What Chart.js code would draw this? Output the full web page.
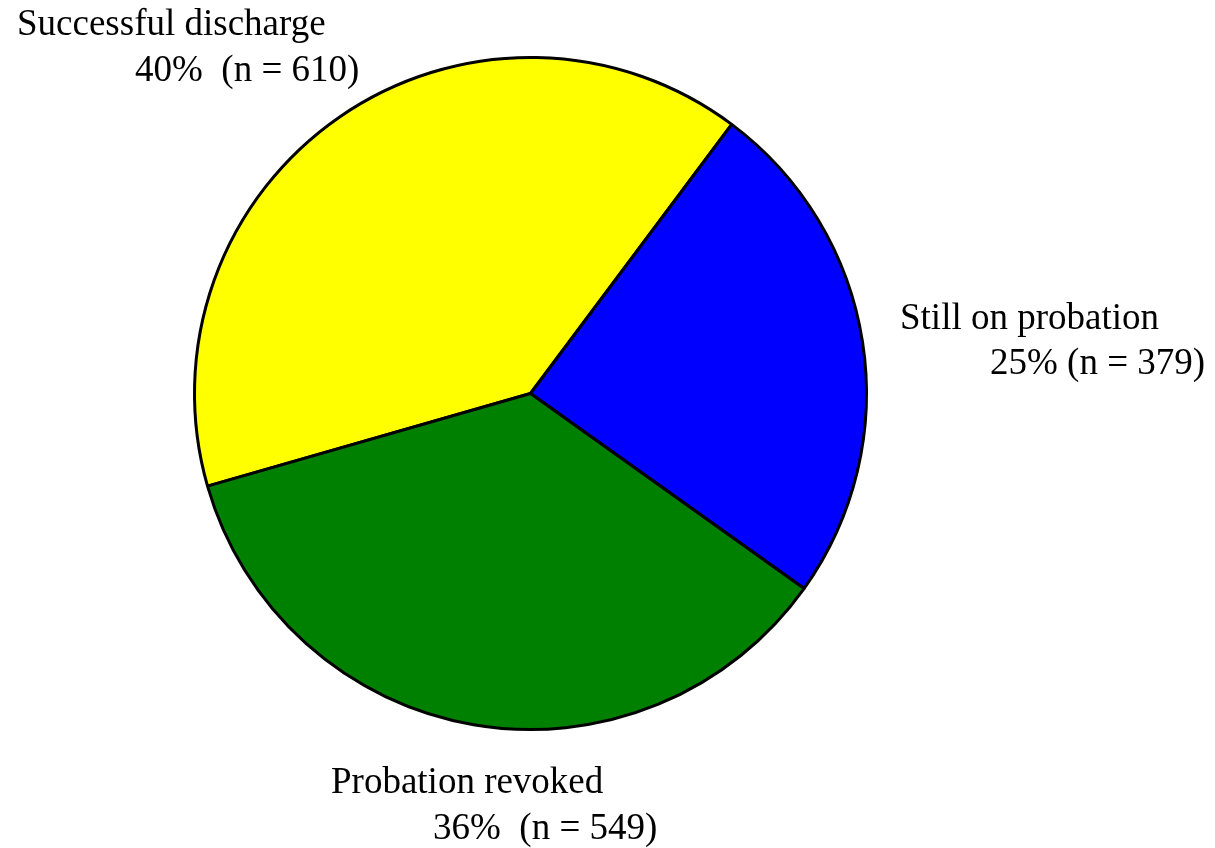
<!DOCTYPE html>
<html>
<head>
<meta charset="utf-8">
<script src="https://cdn.jsdelivr.net/npm/chart.js@4/dist/chart.umd.min.js"></script>
<style>
  body { margin: 0; background: #fff; }
</style>
</head>
<body>
<canvas id="pie" width="1215" height="848"></canvas>
<script>
const categories = ['Successful discharge', 'Still on probation', 'Probation revoked'];
const counts = [610, 379, 549];
const sliceColors = ['#ffff00', '#0000ff', '#008000'];

const total = counts.reduce((a, b) => a + b, 0);

// label text positions (left x, baseline y) for the two lines of each label
const labelPos = [
  [[17, 35], [135, 81]],
  [[900, 329], [990, 374]],
  [[331, 793], [433, 839]]
];
const gaps = ['  ', ' ', '  '];

const labelPlugin = {
  id: 'pieLabels',
  afterDraw(chart) {
    const ctx = chart.ctx;
    ctx.save();
    ctx.fillStyle = '#000';
    ctx.font = '37px "Liberation Serif", "Times New Roman", serif';
    ctx.textAlign = 'left';
    ctx.textBaseline = 'alphabetic';
    categories.forEach((name, i) => {
      const pct = Math.round(counts[i] / total * 100);
      ctx.fillText(name, labelPos[i][0][0], labelPos[i][0][1]);
      ctx.fillText(pct + '%' + gaps[i] + '(n = ' + counts[i] + ')', labelPos[i][1][0], labelPos[i][1][1]);
    });
    ctx.restore();
  }
};

new Chart(document.getElementById('pie').getContext('2d'), {
  type: 'pie',
  data: {
    labels: categories,
    datasets: [{
      data: counts,
      backgroundColor: sliceColors,
      borderColor: '#000',
      borderWidth: 3,
      hoverOffset: 0
    }]
  },
  options: {
    responsive: false,
    animation: false,
    rotation: -106,
    layout: { padding: { left: 192, right: 346, top: 56, bottom: 117 } },
    plugins: {
      legend: { display: false },
      tooltip: { enabled: false }
    }
  },
  plugins: [labelPlugin]
});
</script>
</body>
</html>
